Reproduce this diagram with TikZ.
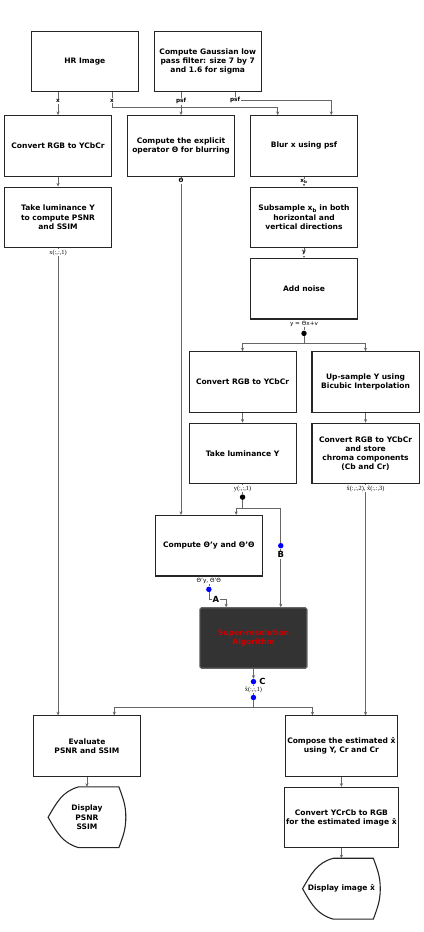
\documentclass[tikz,border=0pt]{standalone}
\usepackage{fontspec}
\setmainfont{DejaVu Sans}
\newfontfamily\idxfont{Liberation Serif}
\usetikzlibrary{positioning,arrows.meta,calc}

% outline of a flowchart "display" symbol round a node
\newcommand{\dispoutline}[1]{%
  \draw[line width=1.1pt, black!85]
    ($(#1.north west)+(31pt,0)$) -- ($(#1.north east)+(-7pt,0)$)
    to[out=-70,in=90] (#1.east) to[out=-90,in=70] ($(#1.south east)+(-7pt,0)$)
    -- ($(#1.south west)+(31pt,0)$)
    to[out=165,in=-60] (#1.west) to[out=60,in=195] ($(#1.north west)+(31pt,0)$);}

\begin{document}
\begin{tikzpicture}[
  font=\fontsize{7.6}{9.3}\selectfont\bfseries,
  >={Stealth[length=3.6pt,width=3.2pt]},
  box/.style={draw=black!85, line width=1.1pt, align=center,
              minimum width=108pt, minimum height=61pt, inner sep=2pt, fill=white},
  srbox/.style={box, draw=black!60, fill=black!80, rounded corners=1.5pt,
                text=red!80!black},
  dispbox/.style={align=center, minimum width=78pt, minimum height=61pt, inner sep=2pt},
  line/.style={black!60, line width=0.6pt},
  arr/.style={line, ->},
  lbl/.style={font=\fontsize{5.8}{7}\selectfont\bfseries, text=black, fill=white, inner sep=0.8pt},
  idx/.style={font=\fontsize{6.4}{7}\selectfont\idxfont, text=black, fill=white, inner sep=0.8pt},
  kdot/.style={circle, fill=black, inner sep=0pt, minimum size=5.5pt},
  bdot/.style={circle, fill=blue, inner sep=0pt, minimum size=5.5pt},
  letter/.style={font=\fontsize{8.5}{9}\selectfont\bfseries, text=black, fill=white, inner sep=0.8pt},
]

%% ---------- row 1: inputs ----------
\node[box] (hr) {HR Image};
\node[box, right=15pt of hr] (gauss) {Compute Gaussian low\\ pass filter: size 7 by 7\\ and 1.6 for sigma};

%% ---------- row 2: colour space, operator, blurring ----------
\node[box, below=23pt of hr, xshift=-27pt] (rgbL) {Convert RGB to YCbCr};
\node[box, right=15pt of rgbL] (expl) {Compute the explicit\\ operator Θ for blurring};
\node[box, right=15pt of expl] (blur) {Blur x using psf};

\node[box, below=10pt of rgbL] (lumL) {Take luminance Y\\ to compute PSNR\\ and SSIM};
\node[box, below=10pt of blur] (subs) {Subsample x\textsubscript{b} in both\\ horizontal and\\ vertical directions};
\node[box, below=10pt of subs] (noise) {Add noise};

%% ---------- low resolution branches ----------
\node[box, below=32pt of noise, xshift=-62pt] (rgbM) {Convert RGB to YCbCr};
\node[box, right=15pt of rgbM] (upsmp) {Up-sample Y using\\ Bicubic Interpolation};
\node[box, below=10pt of rgbM] (lumM) {Take luminance Y};
\node[box, below=10pt of upsmp] (store) {Convert RGB to YCbCr\\ and store\\ chroma components\\ (Cb and Cr)};

\node[box, below=31pt of lumM, xshift=-34pt] (theta) {Compute Θ'y and Θ'Θ};
\node[srbox, below=31pt of theta, xshift=45pt] (sr) {Super-resolution\\ Algorithm};

%% ---------- outputs ----------
\node[box, below=47pt of sr, xshift=-168pt] (eval) {Evaluate\\ PSNR and SSIM};
\node[box, right=145pt of eval] (compose) {Compose the estimated x̂\\ using Y, Cr and Cr};
\node[dispbox, below=10pt of eval] (dpsnr) {Display\\ PSNR\\ SSIM};
\node[box, below=10pt of compose] (ycc) {Convert YCrCb to RGB\\ for the estimated image x̂};
\node[dispbox, below=10pt of ycc] (dimg) {Display image x̂};
\dispoutline{dpsnr}
\dispoutline{dimg}

%% ---------- connectors from row 1 ----------
\coordinate (xin) at ($(blur.north west)+(28pt,0)$);
\coordinate (psfin) at ($(blur.north east)+(-27pt,0)$);
\draw[arr] (hr.south -| rgbL) -- node[lbl, pos=0.4]{x} (rgbL.north);
\draw[arr] (hr.south -| rgbL.east) -- node[lbl, pos=0.55]{x} ++(0,-15pt) -| (xin);
\draw[arr] (gauss.south -| expl) -- node[lbl, pos=0.4]{psf} (expl.north);
\draw[arr] (gauss.south -| expl.east) -- ++(0,-8pt) node[lbl]{psf} -| (psfin);

%% ---------- straight steps ----------
\draw[arr] (rgbL) -- (lumL);
\draw[arr] (blur) -- node[lbl]{x\textsubscript{b}} (subs);
\draw[arr] (subs) -- node[lbl]{y} (noise);
\draw[arr] (rgbM) -- (lumM);
\draw[arr] (upsmp) -- (store);
\draw[arr] (eval) -- (dpsnr);
\draw[arr] (compose) -- (ycc);
\draw[arr] (ycc) -- (dimg);

%% ---------- long vertical feeds ----------
\draw[arr] (lumL.south) node[idx, below=0.5pt]{x(:,:,1)} -- (lumL.south |- eval.north);
\draw[arr] (expl.south) node[lbl, below=1pt]{Θ} -- (expl.south |- theta.north);
\draw[arr] (store.south) node[idx, below=0.5pt]{x̂(:,:,2), x̂(:,:,3)} -- (store.south |- compose.north);

%% ---------- split after the noise ----------
\node[kdot] (ndot) at ($(noise.south)+(0,-14pt)$) {};
\coordinate (nsplit) at ($(ndot)+(0,-10pt)$);
\draw[line] (noise.south) node[lbl, below=0.5pt, font=\fontsize{5.8}{7}\selectfont]{y = Θx+v} -- (ndot);
\draw[arr] (ndot) -- (nsplit) -| (rgbM.north);
\draw[arr] (ndot) -- (nsplit) -| (upsmp.north);

%% ---------- split of the luminance: to theta and to B ----------
\node[kdot] (ldot) at ($(lumM.south)+(0,-13pt)$) {};
\coordinate (lsplit) at ($(ldot)+(0,-11pt)$);
\coordinate (bin) at ($(sr.north east)+(-27pt,0)$);
\node[bdot] (dB) at ($(bin |- lsplit)+(0,-38pt)$) {};
\draw[line] (lumM.south) node[idx, below=0.5pt]{y(:,:,1)} -- (ldot);
\draw[arr] (ldot) -- (lsplit) -| ($(theta.north east)+(-27pt,0)$);
\draw[line] (ldot) -- (lsplit) -| (dB);
\draw[arr] (dB) -- (bin);
\node[letter, below=2pt of dB] {B};

%% ---------- A into the algorithm ----------
\node[bdot] (dA) at ($(theta.south)+(0,-13pt)$) {};
\coordinate (ain) at ($(sr.north west)+(27pt,0)$);
\draw[line] (theta.south) node[lbl, below=0.3pt, font=\fontsize{5.8}{7}\selectfont]{Θ'y, Θ'Θ} -- (dA);
\draw[arr] (dA) -- ++(0,-10pt) -| node[letter, pos=0.2]{A} (ain);

%% ---------- C out of the algorithm ----------
\node[bdot] (dC) at ($(sr.south)+(0,-13pt)$) {};
\node[letter, right=2pt of dC] {C};
\node[bdot] (dD) at ($(dC)+(0,-16pt)$) {};
\coordinate (csplit) at ($(dD)+(0,-10pt)$);
\draw[arr] (sr.south) -- (dC);
\draw[line] (dC) -- node[idx]{x̂(:,:,1)} (dD);
\draw[arr] (dD) -- (csplit) -| ($(eval.north east)+(-27pt,0)$);
\draw[arr] (dD) -- (csplit) -| ($(compose.north west)+(28pt,0)$);

\useasboundingbox ($(rgbL.west |- hr.north)+(-4pt,31pt)$) rectangle ($(upsmp.east |- dimg.south)+(4pt,-13pt)$);
\end{tikzpicture}
\end{document}
